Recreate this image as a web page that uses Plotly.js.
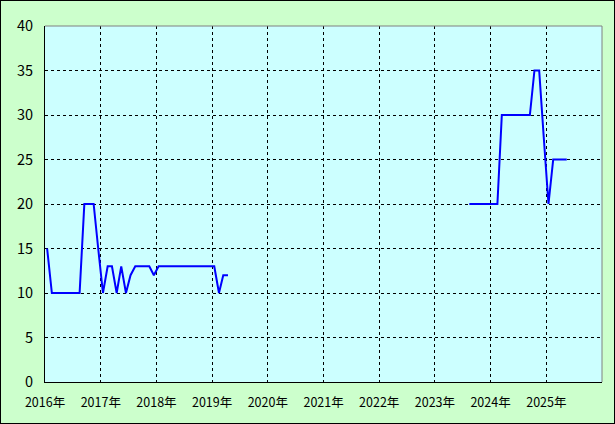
<!DOCTYPE html>
<html>
<head>
<meta charset="utf-8">
<script src="https://cdn.plot.ly/plotly-3.0.1.min.js"></script>
<style>
html,body{margin:0;padding:0;background:#ccffcc;}
#chart{width:613px;height:422px;border:1px solid #000;}
</style>
</head>
<body>
<div id="chart"></div>
<script>
// Monthly values (plotted mid-month)
const dates = [
  '2016-01-15','2016-02-15','2016-03-15','2016-04-15','2016-05-15','2016-06-15','2016-07-15','2016-08-15','2016-09-15','2016-10-15','2016-11-15','2016-12-15',
  '2017-01-15','2017-02-15','2017-03-15','2017-04-15','2017-05-15','2017-06-15','2017-07-15','2017-08-15','2017-09-15','2017-10-15','2017-11-15','2017-12-15',
  '2018-01-15','2018-02-15','2018-03-15','2018-04-15','2018-05-15','2018-06-15','2018-07-15','2018-08-15','2018-09-15','2018-10-15','2018-11-15','2018-12-15',
  '2019-01-15','2019-02-15','2019-03-15','2019-04-15',
  '2019-05-15',
  '2023-08-15','2023-09-15','2023-10-15','2023-11-15','2023-12-15',
  '2024-01-15','2024-02-15','2024-03-15','2024-04-15','2024-05-15','2024-06-15','2024-07-15','2024-08-15','2024-09-15','2024-10-15','2024-11-15','2024-12-15',
  '2025-01-15','2025-02-15','2025-03-15','2025-04-15','2025-05-15'
];
const values = [
  15,10,10,10,10,10,10,10,20,20,20,15,
  10,13,13,10,13,10,12,13,13,13,13,12,
  13,13,13,13,13,13,13,13,13,13,13,13,
  13,10,12,12,
  null,
  20,20,20,20,20,
  20,20,30,30,30,30,30,30,30,35,35,27.5,
  20,25,25,25,25
];
const tickVals = ['2016-01-01','2017-01-01','2018-01-01','2019-01-01','2020-01-01','2021-01-01','2022-01-01','2023-01-01','2024-01-01','2025-01-01'];
const tickText = ['2016年','2017年','2018年','2019年','2020年','2021年','2022年','2023年','2024年','2025年'];
const yTicks = [0,5,10,15,20,25,30,35,40];

const trace = {
  x: dates, y: values, type: 'scatter', mode: 'lines',
  connectgaps: false,
  line: {color: '#0000ff', width: 2},
  hoverinfo: 'skip'
};

const layout = {
  width: 613, height: 422,
  margin: {l: 44, r: 12, t: 25, b: 41},
  paper_bgcolor: '#ccffcc',
  plot_bgcolor: '#ccffff',
  showlegend: false,
  font: {family: '"Noto Sans CJK JP", "DejaVu Sans", sans-serif', color: '#000'},
  xaxis: {
    type: 'date',
    range: ['2016-01-01','2026-01-01'],
    tickmode: 'array', tickvals: tickVals, ticktext: tickText,
    showgrid: true, gridcolor: '#000', gridwidth: 1, griddash: '3px,3px',
    showline: true, linecolor: '#000', linewidth: 1,
    ticks: '', ticklabelstandoff: 9,
    tickfont: {size: 12.5},
    zeroline: false, fixedrange: true
  },
  yaxis: {
    range: [0, 40],
    tickmode: 'array', tickvals: yTicks,
    showgrid: true, gridcolor: '#000', gridwidth: 1, griddash: '3px,3px',
    showline: true, linecolor: '#000', linewidth: 1,
    ticks: '', ticklabelstandoff: 8,
    tickfont: {size: 14.5},
    zeroline: false, fixedrange: true
  },
  shapes: [
    {type: 'line', xref: 'paper', yref: 'paper', x0: 0, x1: 1, y0: 1, y1: 1, line: {color: '#808080', width: 1}},
    {type: 'line', xref: 'paper', yref: 'paper', x0: 1, x1: 1, y0: 0, y1: 1, line: {color: '#808080', width: 1}}
  ]
};

Plotly.newPlot('chart', [trace], layout, {displayModeBar: false, staticPlot: true});
</script>
</body>
</html>
